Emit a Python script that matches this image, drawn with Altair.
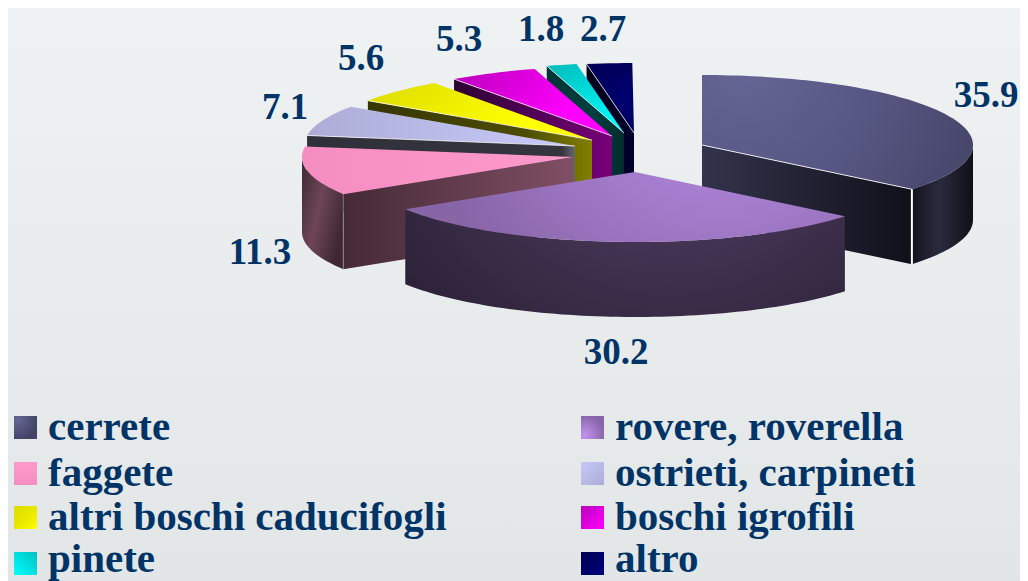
import math
import altair as alt

categories = ["cerrete", "rovere, roverella", "faggete", "ostrieti, carpineti",
              "altri boschi caducifogli", "boschi igrofili", "pinete", "altro"]
values = [35.9, 30.2, 11.3, 7.1, 5.6, 5.3, 1.8, 2.7]

# page pixels of the exploded apex of each slice
apex_x = [702, 635, 573, 575, 592, 612, 624, 634]
apex_y = [145, 172, 157, 146, 140, 136, 133, 133]
label_x = [986, 616, 260, 285, 361, 459, 541, 603]
label_y = [107, 364, 264, 119, 70, 51, 41, 41]
legend_x = [14, 581, 14, 581, 14, 581, 14, 581]
legend_y = [416, 416, 462, 462, 506, 506, 552, 552]
legend_base = [440, 440, 486, 486, 530, 530, 572, 572]

MARGIN = 8
W, H = 1028 - 2 * MARGIN, 581 - MARGIN
RX, RY, DEPTH = 271, 70, 75
TEXT = "#003366"
FONT = "Liberation Serif"


def radial(cx, cy, r, stops):
    return {"gradient": "radial", "x1": cx, "y1": cy, "r1": 0, "x2": cx, "y2": cy, "r2": r,
            "stops": [{"offset": o, "color": c} for o, c in stops]}


def linear(x1, y1, x2, y2, stops):
    return {"gradient": "linear", "x1": x1, "y1": y1, "x2": x2, "y2": y2,
            "stops": [{"offset": o, "color": c} for o, c in stops]}


top_fill = [
    radial(0.15, 0.25, 1.0, [(0, "#666696"), (0.5, "#565682"), (1, "#434366")]),
    radial(0.72, 0.15, 0.7, [(0, "#c292f0"), (0.5, "#a47ccc"), (1, "#8765a6")]),
    linear(0, 0, 1, 0, [(0, "#f58ec0"), (1, "#ff99cc")]),
    linear(0, 0, 1, 0, [(0, "#acacd6"), (0.8, "#c4c4f4"), (1, "#c8c8f8")]),
    linear(0, 0, 1, 0.4, [(0, "#dcdc00"), (0.85, "#ffff00"), (1, "#ffff00")]),
    linear(0, 0, 1, 0.4, [(0, "#bb00bb"), (0.85, "#ff00ff"), (1, "#ff00ff")]),
    linear(0.2, 0, 0.8, 1, [(0, "#00c0c0"), (1, "#00ffff")]),
    radial(0.7, 0.5, 0.8, [(0, "#000070"), (1, "#000050")]),
]
outer_fill = [
    linear(0, 0, 1, 0, [(0, "#14141e"), (0.45, "#2a2a3e"), (1, "#101018")]),
    radial(0.6, 0.05, 0.95, [(0, "#5e4672"), (0.55, "#3c2e4a"), (1, "#221a2c")]),
    linear(0, 0, 1, 0.6, [(0, "#3e2834"), (0.5, "#6e4658"), (1, "#3e2632")]),
]
wall_fill = {
    0: linear(0, 0, 1, 0, [(0, "#33334c"), (1, "#10101a")]),
    2: linear(0, 0, 1, 0, [(0, "#452a36"), (1, "#804f64")]),
    3: linear(0, 0, 1, 0, [(0, "#30303a"), (0.95, "#353540"), (1, "#66666e")]),
    4: linear(0, 0, 1, 0, [(0, "#363600"), (0.7, "#4c4c00"), (1, "#808000")]),
    5: linear(0, 0, 1, 0, [(0, "#2c0034"), (1, "#770077")]),
    6: linear(0, 0, 1, 0, [(0, "#003434"), (0.6, "#004040"), (1, "#002c2c")]),
    7: linear(0, 0, 1, 0, [(0, "#000018"), (1, "#00002c")]),
}
swatch_fill = [
    radial(0.15, 0.15, 0.9, [(0, "#666696"), (1, "#434366")]),
    radial(0.15, 0.85, 0.9, [(0, "#c292f0"), (1, "#8765a6")]),
    linear(0, 0, 0, 1, [(0, "#ff99cc"), (1, "#f58ec0")]),
    linear(0, 0, 1, 1, [(0, "#c8c8f8"), (1, "#acacd6")]),
    linear(0, 0, 1, 1, [(0, "#dcdc00"), (0.5, "#e8e800"), (1, "#ffff00")]),
    linear(0, 0, 1, 1, [(0, "#bb00bb"), (1, "#ff00ff")]),
    linear(1, 0, 0, 1, [(0, "#00c0c0"), (1, "#00ffff")]),
    linear(0, 0, 1, 1, [(0, "#000050"), (1, "#000080")]),
]
PROJ = dict(type="identity", scale=1, translate=[0, 0])


def geo(coords, kind="Polygon"):
    pts = [[x - MARGIN, y - MARGIN] for x, y in coords]
    if kind == "Polygon":
        geom = {"type": "Polygon", "coordinates": [pts + [pts[0]]]}
    else:
        geom = {"type": "LineString", "coordinates": pts}
    return alt.Data(values=[{"type": "Feature", "properties": {}, "geometry": geom}])


def shape(coords, fill):
    return alt.Chart(geo(coords)).mark_geoshape(fill=fill, stroke=None, strokeWidth=0).project(**PROJ)


def edge(coords, opacity=0.9, width=1.0):
    return alt.Chart(geo(coords, "LineString")).mark_geoshape(
        filled=False, stroke="white", strokeWidth=width, strokeOpacity=opacity).project(**PROJ)


def rim(cx, cy, a):
    r = math.radians(a)
    return (cx + RX * math.sin(r), cy - RY * math.cos(r))


def arc(cx, cy, a0, a1):
    n = max(2, int(abs(a1 - a0) / 1.5))
    return [rim(cx, cy, a0 + (a1 - a0) * i / n) for i in range(n + 1)]


def drop(p):
    return (p[0], p[1] + DEPTH)


# angular extent of each slice, clockwise from twelve o'clock
starts, ends, acc = [], [], 0.0
for v in values:
    starts.append(acc * 3.6)
    acc += v
    ends.append(acc * 3.6)

layers = [
    alt.Chart(alt.Data(values=[{}])).mark_rect(
        fill=linear(0, 0, 0, 1, [(0, "#eff2f2"), (0.5, "#e9eced"), (1, "#e2e6e7")])
    ).encode(x=alt.value(0), x2=alt.value(W), y=alt.value(0), y2=alt.value(H))
]

# painter's order: back slices first, then round to the front
outer_index = {0: 0, 1: 1, 2: 2}
for i in [7, 6, 5, 4, 3, 2, 0, 1]:
    cx, cy = apex_x[i], apex_y[i]
    a0, a1 = starts[i], ends[i]
    c = (cx, cy)
    # radial wall facing the viewer
    if i in wall_fill:
        wall_angle = a1 if i == 0 else a0
        p = rim(cx, cy, wall_angle)
        layers.append(shape([c, p, drop(p), drop(c)], wall_fill[i]))
    # outer curved wall (front half of the ellipse only)
    if i in outer_index:
        lo, hi = max(a0, 90), min(a1, 270)
        if hi > lo:
            r = arc(cx, cy, lo, hi)
            layers.append(shape(r + [drop(q) for q in reversed(r)], outer_fill[outer_index[i]]))
    # top face
    layers.append(shape([c] + arc(cx, cy, a0, a1), top_fill[i]))
    # thin highlights along the lit edges
    if i == 0:
        p = rim(cx, cy, a1)
        layers.append(edge([c, p], 0.85))
        layers.append(edge([p, drop(p)], 1.0, 2.0))
    elif i == 2:
        p = rim(cx, cy, a0)
        layers.append(edge([p, drop(p)], 0.35))
    elif i >= 3:
        p = rim(cx, cy, a0)
        layers.append(edge([c, p], 0.75))

# legend swatches
SW = 23
for i in range(len(categories)):
    x, y = legend_x[i], legend_y[i]
    layers.append(shape([(x, y), (x + SW, y), (x + SW, y + SW), (x, y + SW)], swatch_fill[i]))

legend_rows = [{"t": categories[i], "x": legend_x[i] + 34 - MARGIN, "y": legend_base[i] - MARGIN}
               for i in range(len(categories))]
label_rows = [{"t": f"{values[i]:.1f}", "x": label_x[i] - MARGIN, "y": label_y[i] - MARGIN}
              for i in range(len(values))]
pos = dict(x=alt.X("x:Q", scale=None, axis=None), y=alt.Y("y:Q", scale=None, axis=None), text="t:N")

layers.append(alt.Chart(alt.Data(values=legend_rows)).mark_text(
    align="left", baseline="alphabetic", font=FONT, fontWeight="bold", fontSize=41, color=TEXT
).encode(**pos))
layers.append(alt.Chart(alt.Data(values=label_rows)).mark_text(
    align="center", baseline="alphabetic", font=FONT, fontWeight="bold", fontSize=37, color=TEXT
).encode(**pos))

chart = alt.layer(*layers).properties(
    width=W, height=H, padding=0, autosize=alt.AutoSizeParams(type="none"), background="#e9eced"
).configure_view(strokeWidth=0)

chart.save("out.html", embed_options={"renderer": "svg", "actions": False})
